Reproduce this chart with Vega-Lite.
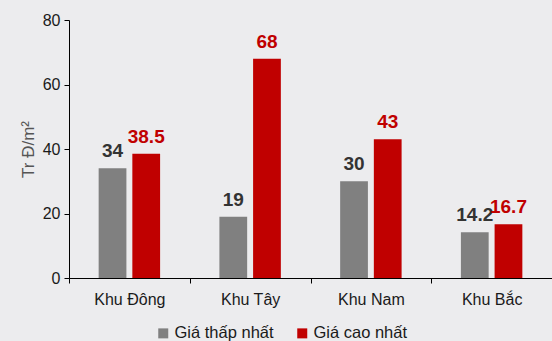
{
  "$schema": "https://vega.github.io/schema/vega-lite/v6.json",
  "width": 483,
  "height": 258,
  "autosize": "none",
  "padding": {"left": 69, "top": 20, "right": 0, "bottom": 63},
  "background": "#ececee",
  "config": {
    "view": {"stroke": null},
    "font": "Liberation Sans"
  },
  "data": {
    "values": [
      {"region": "Khu Đông", "series": "Giá thấp nhất", "value": 34},
      {"region": "Khu Đông", "series": "Giá cao nhất", "value": 38.5},
      {"region": "Khu Tây", "series": "Giá thấp nhất", "value": 19},
      {"region": "Khu Tây", "series": "Giá cao nhất", "value": 68},
      {"region": "Khu Nam", "series": "Giá thấp nhất", "value": 30},
      {"region": "Khu Nam", "series": "Giá cao nhất", "value": 43},
      {"region": "Khu Bắc", "series": "Giá thấp nhất", "value": 14.2},
      {"region": "Khu Bắc", "series": "Giá cao nhất", "value": 16.7}
    ]
  },
  "encoding": {
    "x": {
      "field": "region", "type": "nominal",
      "sort": ["Khu Đông", "Khu Tây", "Khu Nam", "Khu Bắc"],
      "scale": {"paddingInner": 0, "paddingOuter": 0},
      "axis": {
        "title": null, "labelAngle": 0, "domainColor": "#000000", "tickColor": "#000000",
        "tickBand": "extent", "tickSize": 5, "labelFontSize": 16, "labelColor": "#1a1a1a",
        "labelPadding": 8
      }
    },
    "xOffset": {
      "field": "series", "type": "nominal",
      "sort": ["Giá thấp nhất", "Giá cao nhất"],
      "scale": {"paddingInner": 0.176, "paddingOuter": 0.88}
    },
    "y": {
      "field": "value", "type": "quantitative",
      "scale": {"domain": [0, 80], "nice": false},
      "axis": {
        "title": "Tr Đ/m²", "values": [0, 20, 40, 60, 80], "grid": false,
        "domainColor": "#000000", "tickColor": "#000000", "tickSize": 5,
        "labelFontSize": 16, "labelColor": "#1a1a1a", "labelPadding": 4,
        "titleFontSize": 17, "titleFontWeight": "normal", "titleColor": "#555555", "titlePadding": 5
      }
    }
  },
  "layer": [
    {
      "mark": {"type": "bar"},
      "encoding": {
        "color": {
          "field": "series", "type": "nominal",
          "sort": ["Giá thấp nhất", "Giá cao nhất"],
          "scale": {"domain": ["Giá thấp nhất", "Giá cao nhất"], "range": ["#808080", "#c00000"]},
          "legend": {
            "title": null, "orient": "none", "direction": "horizontal",
            "legendX": 86, "legendY": 305,
            "symbolType": "square", "symbolSize": 100, "symbolStrokeWidth": 0,
            "labelFontSize": 16.5, "labelColor": "#1a1a1a", "labelOffset": 3,
            "columnPadding": 20
          }
        }
      }
    },
    {
      "mark": {"type": "text", "dy": -17, "fontSize": 19, "fontWeight": "bold"},
      "encoding": {
        "text": {"field": "value", "type": "quantitative"},
        "color": {
          "condition": {"test": "datum.series === 'Giá cao nhất'", "value": "#c00000"},
          "value": "#333333"
        }
      }
    }
  ]
}
